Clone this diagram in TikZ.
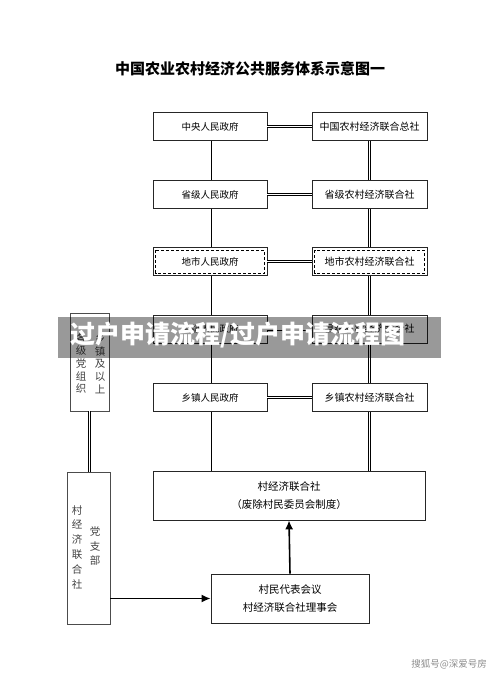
\documentclass[tikz,border=0pt]{standalone}
\usepackage{fontspec}
\setmainfont{Noto Sans CJK SC}
\usetikzlibrary{arrows.meta}
\begin{document}
\begin{tikzpicture}[x=1pt,y=-1pt,
    govbox/.style={draw=black!85,line width=0.8pt,minimum width=114pt,minimum height=28pt,inner sep=0pt,font=\fontsize{9.5}{11}\selectfont},
    coopbox/.style={govbox,minimum width=115pt,font=\fontsize{10}{11}\selectfont},
    bigbox/.style={draw=black!85,line width=0.8pt,inner sep=0pt,align=center,font=\fontsize{10.5}{18.5}\selectfont},
    tallbox/.style={draw=black!70,line width=0.8pt,inner sep=0pt},
    vtext/.style={align=center,inner sep=0pt,text=black!75},
    dbl/.style={double,double distance=1.8pt,line width=0.6pt},
    arr/.style={line width=1.6pt,-{Latex[length=9pt,width=8pt]}}]
  \useasboundingbox (0,0) rectangle (500,676);
  % title
  \node (title) at (250,69) {\fontsize{15}{16}\selectfont\bfseries 中国农业农村经济公共服务体系示意图一};
  % government column
  \node[govbox] (zy) at (210,126.5) {中央人民政府};
  \node[govbox] (sj) at (210,194.5) {省级人民政府};
  \node[govbox] (ds) at (210,261.5) {地市人民政府};
  \node[govbox] (xj) at (210,329) {县级人民政府};
  \node[govbox] (xz) at (210,397.5) {乡镇人民政府};
  % cooperative column
  \node[coopbox] (zs) at (369.5,126.5) {中国农村经济联合总社};
  \node[coopbox] (ss) at (369.5,194.5) {省级农村经济联合社};
  \node[coopbox] (dl) at (369.5,261.5) {地市农村经济联合社};
  \node[coopbox] (xl) at (369.5,329) {县级农村经济联合社};
  \node[coopbox] (zl) at (369.5,397.5) {乡镇农村经济联合社};
  % dashed inner frames
  \draw[dash pattern=on 3pt off 2pt,line width=0.7pt] ([shift={(3,3)}]ds.north west) rectangle ([shift={(-3,-3)}]ds.south east);
  \draw[dash pattern=on 3pt off 2pt,line width=0.7pt] ([shift={(3,3)}]dl.north west) rectangle ([shift={(-3,-3)}]dl.south east);
  % village
  \node[bigbox,minimum width=272pt,minimum height=49pt] (cun) at (289,495.5) {村经济联合社\\（废除村民委员会制度）};
  \node[bigbox,minimum width=158pt,minimum height=49pt] (hy) at (290,598.5) {村民代表会议\\村经济联合社理事会};
  % party boxes
  \node[tallbox,minimum width=39pt,minimum height=98pt] (dz) at (89.5,362) {};
  \node[vtext,font=\fontsize{10.5}{12.7}\selectfont] (dzl) at (81,363.5) {各\\级\\党\\组\\织};
  \node[vtext,font=\fontsize{10.5}{12.7}\selectfont] (dzr) at (100,363.5) {乡\\镇\\及\\以\\上};
  \node[tallbox,minimum width=43pt,minimum height=152pt] (zb) at (88.5,548) {};
  \node[vtext,font=\fontsize{10.5}{14.8}\selectfont] (zbl) at (77,547) {村\\经\\济\\联\\合\\社};
  \node[vtext,font=\fontsize{10.5}{14.6}\selectfont] (zbr) at (95,546) {党\\支\\部};
  % double links
  \draw[dbl] (zy.south) -- (sj.north);
  \draw[dbl] (sj.south) -- (ds.north);
  \draw[dbl] (ds.south) -- (xj.north);
  \draw[dbl] (xj.south) -- (xz.north);
  \draw[dbl] (xz.south) -- (xz.south |- cun.north);
  \draw[dbl] (zs.south) -- (ss.north);
  \draw[dbl] (ss.south) -- (dl.north);
  \draw[dbl] (dl.south) -- (xl.north);
  \draw[dbl] (xl.south) -- (zl.north);
  \draw[dbl] (zl.south) -- (zl.south |- cun.north);
  \draw[dbl] (zy.east) -- (zy.east -| zs.west);
  \draw[dbl] (sj.east) -- (sj.east -| ss.west);
  \draw[dbl] (ds.east) -- (ds.east -| dl.west);
  \draw[dbl] (xj.east) -- (xj.east -| xl.west);
  \draw[dbl] (xz.east) -- (xz.east -| zl.west);
  \draw[dbl] (dz.south) -- (dz.south |- zb.north);
  % arrows
  \draw[arr] (hy.north) -- (cun.south);
  \draw[arr] (zb.east |- hy.west) -- (hy.west);
  % watermark band
  \fill[black,fill opacity=0.4] (58,317) rectangle (441,358);
  \node[text=white,inner sep=0pt] (band) at (238,335.5) {\fontsize{25}{26}\selectfont\bfseries 过户申请流程/过户申请流程图};
  \node[text=black!45,inner sep=0pt] (sohu) at (449,664) {\fontsize{9.5}{10}\selectfont 搜狐号@深爱号房};
\end{tikzpicture}
\end{document}
